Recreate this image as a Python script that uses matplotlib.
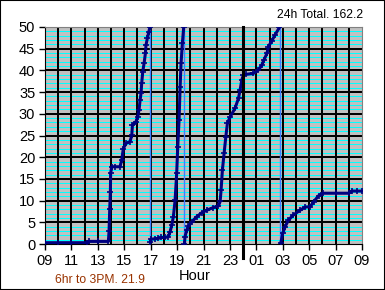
import matplotlib
matplotlib.use('Agg')
import matplotlib.pyplot as plt
from matplotlib.patches import Rectangle

plt.rcParams['font.family'] = ['Liberation Sans', 'DejaVu Sans']

# hours since 09:00, cumulative rain (wraps at 50)
seg1_x = [0.0, 1.0, 2.0, 3.2, 3.3, 4.0, 4.8, 4.85, 4.9, 4.95, 4.97, 5.05, 5.3, 5.68, 5.81, 5.93,
          6.14, 6.44, 6.57, 6.62, 6.89, 7.02, 7.12, 7.2, 7.27, 7.32, 7.4, 7.5, 7.6, 7.65, 7.75, 7.86, 7.95]
seg1_y = [0.3, 0.3, 0.3, 0.3, 0.6, 0.6, 0.6, 3.0, 8.0, 12.0, 16.3, 17.8, 17.8, 17.8, 19.4, 22.0,
          23.2, 23.6, 25.1, 27.4, 28.2, 29.3, 30.9, 33.2, 34.7, 37.0, 39.7, 41.6, 43.9, 45.9, 47.4, 48.9, 50.0]

seg2_x = [7.98, 8.02, 8.3, 8.59, 8.8, 9.1, 9.34, 9.47, 9.6, 9.72, 9.85, 9.97, 10.05, 10.15, 10.23,
          10.3, 10.4, 10.5]
seg2_y = [0.5, 1.1, 1.2, 1.3, 1.5, 1.5, 1.7, 2.8, 4.4, 6.3, 10.1, 16.3, 22.4, 28.6, 36.2,
          41.6, 46.2, 49.9]

seg3_x = [10.56, 10.6, 10.73, 10.86, 11.11, 11.49, 11.87, 12.25, 12.75, 13.13, 13.26, 13.33, 13.43,
          13.56, 13.69, 13.81, 14.02, 14.39, 14.65, 14.77, 14.9, 15.02, 15.23, 15.78, 16.16, 16.41,
          16.59, 16.8, 16.92, 17.17, 17.42, 17.75]
seg3_y = [0.0, 1.7, 3.2, 4.1, 5.1, 6.3, 7.2, 7.8, 8.4, 8.8, 9.8, 12.4, 17.0,
          20.9, 24.7, 27.8, 29.3, 31.3, 33.6, 35.5, 37.8, 38.9, 39.1, 39.3, 40.1, 41.2,
          42.5, 43.9, 45.5, 46.8, 48.2, 49.9]

seg4_x = [17.85, 18.0, 18.18, 18.43, 18.81, 19.32, 19.7, 20.08, 20.33, 20.71, 21.04, 22.0, 22.98,
          23.23, 23.6, 24.0]
seg4_y = [0.2, 2.5, 4.0, 5.5, 6.7, 7.8, 8.5, 8.6, 9.7, 11.1, 11.7, 11.7, 11.7,
          12.2, 12.2, 12.2]

wrap_x = [7.95, 10.53, 17.82]
midnight = 15.0

tick_pos = list(range(0, 25, 2))
tick_labels = ['09', '11', '13', '15', '17', '19', '21', '23', '01', '03', '05', '07', '09']

total_text = '24h Total. 162.2'
part_text = '6hr to 3PM. 21.9'

fig = plt.figure(figsize=(3.85, 2.9), dpi=100)
ax = fig.add_axes([45 / 385, 46 / 290, 317 / 385, 217 / 290])
ax.set_facecolor('#c0c0c0')

# minor cyan grid every 1, black grid every 5 and every hour
for v in range(1, 50):
    if v % 5:
        ax.axhline(v, color='#00ffff', lw=0.72, zorder=1, antialiased=False)
for v in range(5, 50, 5):
    ax.axhline(v, color='black', lw=1.1, zorder=2, antialiased=False)
for h in range(1, 24):
    ax.axvline(h, color='black', lw=1.1, zorder=2, antialiased=False)

for wx in wrap_x:
    ax.plot([wx, wx], [0, 50], color='#3f7fff', lw=1.0, zorder=3)

for sx, sy in [(seg1_x, seg1_y), (seg2_x, seg2_y), (seg3_x, seg3_y), (seg4_x, seg4_y)]:
    ax.plot(sx, sy, color='#000080', lw=2.2, marker='+', ms=4, mew=1.2, zorder=4)

ax.plot([midnight, midnight], [-3.3, 50], color='black', lw=2.2, zorder=5, clip_on=False)

ax.set_xlim(0, 24)
ax.set_ylim(0, 50)
ax.set_xticks(tick_pos)
ax.set_xticklabels(tick_labels)
ax.set_yticks(range(0, 51, 5))
ax.tick_params(axis='both', direction='out', length=4, width=1, labelsize=10.5, colors='black', pad=3)

for side in ['top', 'right']:
    ax.spines[side].set_color('#808080')
for side in ['left', 'bottom']:
    ax.spines[side].set_color('black')

fig.text(195 / 385, 1 - 276 / 290, 'Hour', ha='center', va='center', fontsize=10.5)
fig.text(363 / 385, 1 - 15 / 290, total_text, ha='right', va='center', fontsize=8.7)
fig.text(55 / 385, 1 - 280 / 290, part_text, ha='left', va='center', fontsize=8.7, color='#993300')

fig.patches.append(Rectangle((0, 0), 1, 1, transform=fig.transFigure, fill=False,
                             edgecolor='black', lw=1.5))

fig.savefig('out.png', dpi=100)
